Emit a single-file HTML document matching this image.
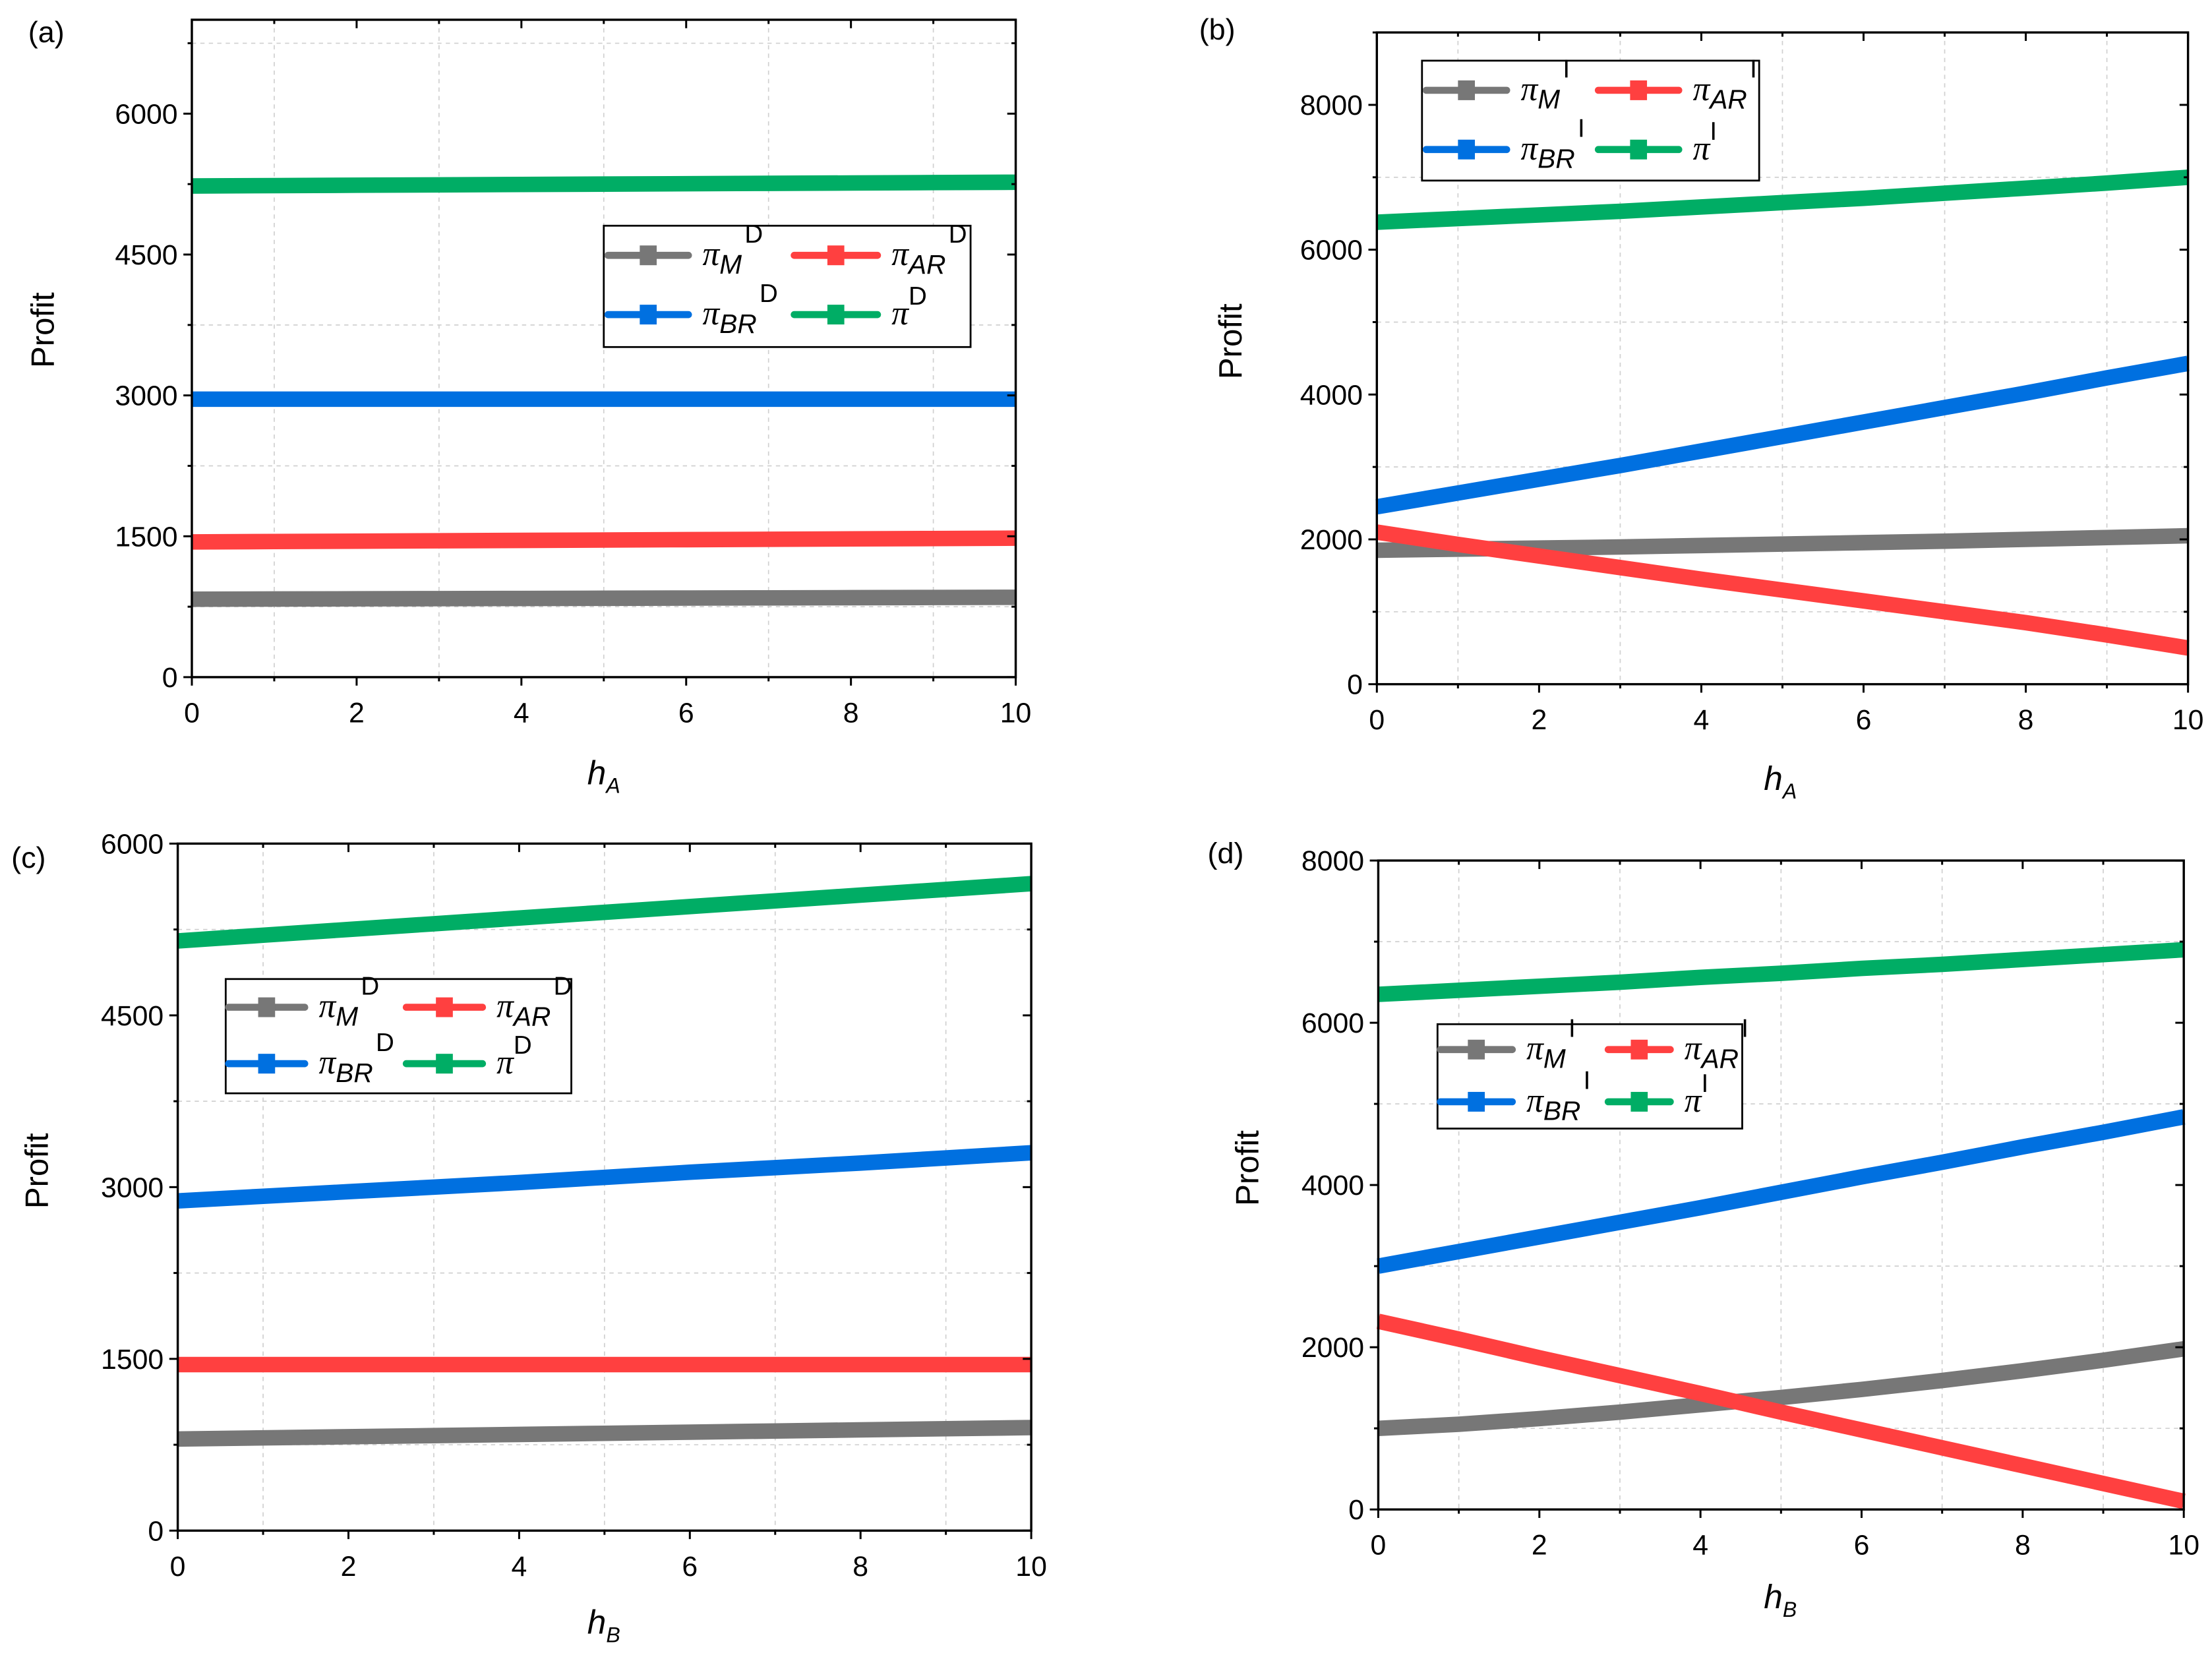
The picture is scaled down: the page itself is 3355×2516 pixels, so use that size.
<!DOCTYPE html>
<html><head><meta charset="utf-8"><style>
html,body{margin:0;padding:0;background:#fff}
svg{display:block}
text{font-family:"Liberation Sans",sans-serif;fill:#000}
</style></head><body>
<svg id="fig" width="3355" height="2516" viewBox="0 0 1568 1176" preserveAspectRatio="none" xmlns="http://www.w3.org/2000/svg"></svg>
<script>
const xValues=[0,1,2,3,4,5,6,7,8,9,10];
const seriesNames=["M","AR","BR","total"];
const a_M=[830,832,834,836,838,840,842,844,846,848,850];
const a_AR=[1440,1444,1448,1452,1456,1460,1464,1468,1472,1476,1480];
const a_BR=[2960,2960,2960,2960,2960,2960,2960,2960,2960,2960,2960];
const a_total=[5230,5234,5238,5242,5246,5250,5254,5258,5262,5266,5270];
const b_M=[1850,1865,1880,1895,1915,1935,1955,1975,2000,2025,2050];
const b_AR=[2100,1930,1770,1610,1450,1300,1150,1000,850,680,500];
const b_BR=[2450,2640,2830,3020,3220,3420,3620,3820,4020,4230,4430];
const b_total=[6380,6430,6480,6530,6590,6650,6710,6780,6850,6920,7000];
const c_M=[800,810,820,830,840,850,860,870,880,890,900];
const c_AR=[1450,1450,1450,1450,1450,1450,1450,1450,1450,1450,1450];
const c_BR=[2880,2920,2960,3000,3040,3085,3130,3170,3210,3255,3300];
const c_total=[5150,5200,5250,5300,5350,5400,5450,5500,5550,5600,5650];
const d_M=[1000,1050,1120,1200,1290,1380,1480,1590,1710,1840,1980];
const d_AR=[2320,2100,1870,1650,1430,1200,980,760,540,320,100];
const d_BR=[3000,3180,3360,3540,3720,3910,4100,4280,4470,4650,4840];
const d_total=[6350,6400,6450,6500,6560,6610,6670,6720,6780,6840,6900];
const xTicks=[0,2,4,6,8,10];
const yTicksA=[0,1500,3000,4500,6000];
const yTicksB=[0,2000,4000,6000,8000];
const colors={M:"#777777",AR:"#ff4040",BR:"#0070e0",total:"#00ad65"};
const panels=[
 {id:"a",L:136,R:720,T:14,B:480,ymax:7000,yt:yTicksA,ym:750,data:[a_M,a_AR,a_BR,a_total],sup:"D",xl:"A",lab:[20,30],yl:[38,234],xlp:[428,556],
  lg:{x:428,y:160,w:260,h:86,r:[181,223],c:[431,563],t:[498,632]}},
 {id:"b",L:976,R:1551,T:23,B:485,ymax:9000,yt:yTicksB,ym:1000,data:[b_M,b_AR,b_BR,b_total],sup:"I",xl:"A",lab:[850,28],yl:[880,242],xlp:[1262,560],
  lg:{x:1008,y:43,w:239,h:85,r:[64,106],c:[1011,1133],t:[1078,1200]}},
 {id:"c",L:126,R:731,T:598,B:1085,ymax:6000,yt:yTicksA,ym:750,data:[c_M,c_AR,c_BR,c_total],sup:"D",xl:"B",lab:[8,615],yl:[34,830],xlp:[428,1158],
  lg:{x:160,y:694,w:245,h:81,r:[714,754],c:[162,288],t:[226,352]}},
 {id:"d",L:977,R:1548,T:610,B:1070,ymax:8000,yt:yTicksB,ym:1000,data:[d_M,d_AR,d_BR,d_total],sup:"I",xl:"B",lab:[856,612],yl:[892,828],xlp:[1262,1140],
  lg:{x:1019,y:726,w:216,h:74,r:[744,781],c:[1021,1140],t:[1082,1194]}}
];
const NS="http://www.w3.org/2000/svg";
const svg=document.getElementById('fig');
function mk(tag,at,parent){const e=document.createElementNS(NS,tag);for(const k in at)e.setAttribute(k,at[k]);(parent||svg).appendChild(e);return e;}
const subs={M:"M",AR:"AR",BR:"BR",total:""};
panels.forEach(p=>{
  const g=mk('g',{});
  
  
  const sx=v=>p.L+(v-0)/10*(p.R-p.L);
  const sy=v=>p.B-v/p.ymax*(p.B-p.T);
  for(let x=1;x<10;x+=2){const l=mk('line',{x1:sx(x),x2:sx(x),y1:p.T,y2:p.B,stroke:"#d0d0d0","stroke-width":0.8,"stroke-dasharray":"3,3"},g);}
  for(let y=p.ym;y<p.ymax;y+=p.ym*2){const l=mk('line',{x1:p.L,x2:p.R,y1:sy(y),y2:sy(y),stroke:"#d0d0d0","stroke-width":0.8,"stroke-dasharray":"3,3"},g);}
  p.data.forEach((arr,i)=>{
    const pts=arr.map((v,j)=>sx(xValues[j])+","+sy(v)).join(" ");
    const pl=mk('polyline',{points:pts,fill:"none",stroke:colors[seriesNames[i]],"stroke-width":11},g);
    
    
  });
  const bx=mk('rect',{x:p.L,y:p.T,width:p.R-p.L,height:p.B-p.T,fill:"none",stroke:"#000","stroke-width":1.6},g);
  
  for(let x=0;x<=10;x++){const len=x%2==0?6:3;
    mk('line',{x1:sx(x),x2:sx(x),y1:p.B,y2:p.B+len,stroke:"#000","stroke-width":1.4},g);
    mk('line',{x1:sx(x),x2:sx(x),y1:p.T,y2:p.T+len,stroke:"#000","stroke-width":1.4},g);}
  xTicks.forEach(x=>{const t=mk('text',{x:sx(x),y:p.B+32,"text-anchor":"middle","font-size":20},g);t.textContent=x;});
  for(let y=0;y<=p.ymax+0.1;y+=p.ym){const len=(Math.round(y/p.ym)%2==0)?6:3;
    mk('line',{x1:p.L-len,x2:p.L,y1:sy(y),y2:sy(y),stroke:"#000","stroke-width":1.4},g);
    mk('line',{x1:p.R-len,x2:p.R,y1:sy(y),y2:sy(y),stroke:"#000","stroke-width":1.4},g);}
  p.yt.forEach(y=>{const t=mk('text',{x:p.L-10,y:sy(y)+7,"text-anchor":"end","font-size":20},g);t.textContent=y;});
  const yl=mk('text',{x:p.yl[0],y:p.yl[1],"text-anchor":"middle","font-size":23,transform:`rotate(-90 ${p.yl[0]} ${p.yl[1]})`},g);yl.textContent="Profit";
  
  const xl=mk('text',{x:p.xlp[0],y:p.xlp[1],"text-anchor":"middle","font-size":24,"font-style":"italic","font-family":"Liberation Serif,serif"},g);
  xl.innerHTML='h<tspan font-size="15" dy="6">'+p.xl+'</tspan>';
  
  const pl=mk('text',{x:p.lab[0],y:p.lab[1],"font-size":21},g);pl.textContent="("+p.id+")";
  
  const L=p.lg;const lg=mk('g',{},g);
  
  mk('rect',{x:L.x,y:L.y,width:L.w,height:L.h,fill:"#fff",stroke:"#000","stroke-width":1.3},lg);
  seriesNames.forEach((s,i)=>{const row=L.r[i>>1],col=i%2;const x0=L.c[col];const len=L.t[col]-x0-10;
    const e=mk('g',{},lg);
    mk('line',{x1:x0,x2:x0+len,y1:row,y2:row,stroke:colors[s],"stroke-width":5,"stroke-linecap":"round"},e);
    mk('rect',{x:x0+len/2-6,y:row-7,width:12,height:14,fill:colors[s]},e);
    const t=mk('text',{x:L.t[col],y:row+7,"font-size":24},e);
    t.innerHTML='<tspan font-style="italic" font-family="Liberation Serif,serif">π</tspan>'+(subs[s]?'<tspan font-style="italic" font-size="19" dy="6">'+subs[s]+'</tspan><tspan font-size="18" dy="-22" dx="2">'+p.sup+'</tspan>':'<tspan font-size="18" dy="-14">'+p.sup+'</tspan>');
  });
});
</script>
</body></html>
